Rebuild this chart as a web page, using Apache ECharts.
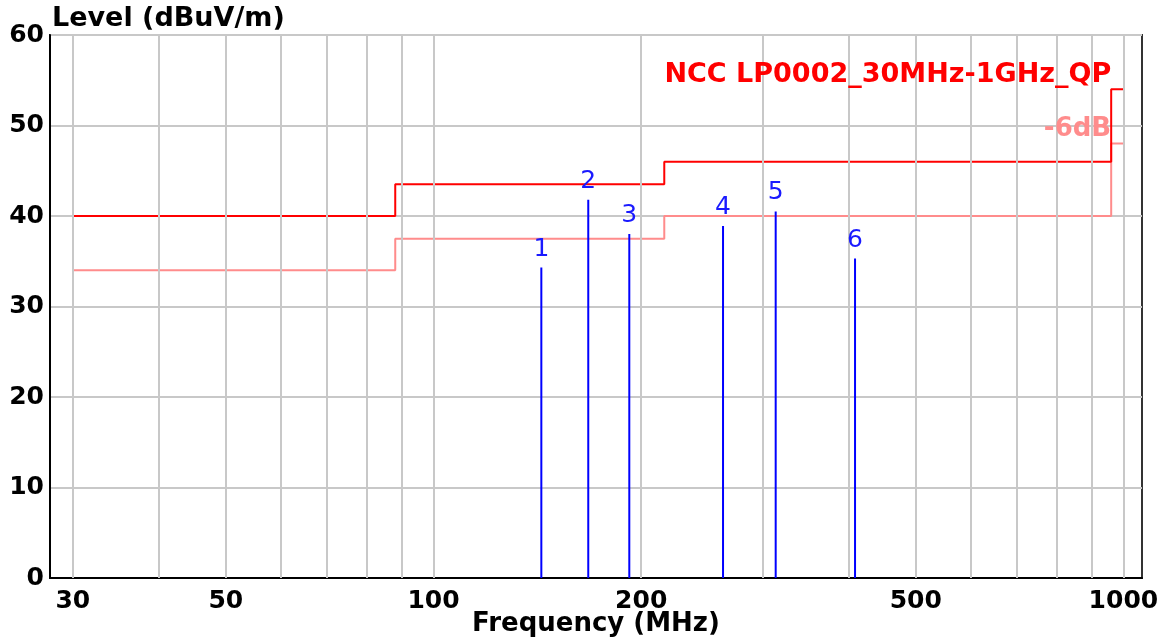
<!DOCTYPE html>
<html>
<head>
<meta charset="utf-8">
<script src="https://cdn.jsdelivr.net/npm/echarts@6/dist/echarts.min.js"></script>
<style>
html,body{margin:0;padding:0;background:#fff;}
#chart{width:1168px;height:641px;}
</style>
</head>
<body>
<div id="chart"></div>
<script>
// ---- data ----
const peakFreqMHz = [143.3, 167.6, 192.2, 262.8, 313.3, 408.3];
const peakLevelDb = [34.3, 41.8, 38.0, 38.9, 40.5, 35.3];
const peakLabels = ['1', '2', '3', '4', '5', '6'];
const limitEdgesMHz = [30, 88, 216, 960, 1000];
const qpLimitDb = [40, 43.5, 46, 54, 54];
const marginLimitDb = [34, 37.5, 40, 48, 48];
const xTickLabels = [30, 50, 100, 200, 500, 1000];
const xGridValues = [30, 40, 50, 60, 70, 80, 90, 100, 200, 300, 400, 500, 600, 700, 800, 900, 1000];
const limitName = 'NCC LP0002_30MHz-1GHz_QP';
const marginName = '-6dB';

const FONT = '"DejaVu Sans", "Liberation Sans", Arial, sans-serif';

const chart = echarts.init(document.getElementById('chart'));

const qpData = limitEdgesMHz.map((f, i) => [f, qpLimitDb[i]]);
const marginData = limitEdgesMHz.map((f, i) => [f, marginLimitDb[i]]);
const peakData = peakFreqMHz.map((f, i) => [f, peakLevelDb[i], peakLabels[i]]);
const xLabelData = xTickLabels.map(v => [v, 0]);

const option = {
  animation: false,
  backgroundColor: '#fff',
  grid: {
    left: 50, right: 26, top: 35, bottom: 63,
    outerBoundsMode: 'none',
    containLabel: false,
    show: true, borderColor: '#333', borderWidth: 2, backgroundColor: '#fff'
  },
  xAxis: {
    type: 'log',
    logBase: 10,
    min: 27.8,
    max: 1064,
    name: 'Frequency (MHz)',
    nameLocation: 'middle',
    nameGap: 46,
    nameTextStyle: { fontFamily: FONT, fontWeight: 'bold', fontSize: 26, color: '#000', verticalAlign: 'middle' },
    axisLine: { show: true, lineStyle: { color: '#000', width: 2 } },
    axisTick: { show: false },
    axisLabel: { show: false },
    splitLine: { show: false },
    minorSplitLine: { show: false }
  },
  yAxis: {
    type: 'value',
    min: 0, max: 60, interval: 10,
    name: 'Level (dBuV/m)',
    nameLocation: 'end',
    nameGap: 16,
    nameTextStyle: { fontFamily: FONT, fontWeight: 'bold', fontSize: 27, color: '#000', align: 'left', verticalAlign: 'middle', padding: [0, 0, 0, 2] },
    axisLine: { show: true, lineStyle: { color: '#000', width: 2 } },
    axisTick: { show: false },
    axisLabel: { fontFamily: FONT, fontWeight: 'bold', fontSize: 25, color: '#000', margin: 6 },
    splitLine: { show: true, lineStyle: { color: '#c8c8c8', width: 2 } }
  },
  series: [
    {
      name: 'grid',
      type: 'line',
      data: [],
      silent: true,
      z: 1,
      markLine: {
        silent: true,
        symbol: ['none', 'none'],
        label: { show: false },
        lineStyle: { color: '#c8c8c8', width: 2, type: 'solid' },
        emphasis: { disabled: true },
        animation: false,
        data: xGridValues.map(v => ({ xAxis: v }))
      }
    },
    {
      name: marginName,
      type: 'line',
      step: 'end',
      data: marginData,
      showSymbol: false,
      symbol: 'none',
      lineStyle: { color: '#ff8c8c', width: 2 },
      z: 3,
      markPoint: {
        symbol: 'circle', symbolSize: 0, silent: true,
        data: [{ coord: [960, 48] }],
        label: {
          show: true, formatter: marginName, position: [0, -14], align: 'right', verticalAlign: 'middle',
          fontFamily: FONT, fontWeight: 'bold', fontSize: 26, color: '#ff8c8c'
        }
      }
    },
    {
      name: limitName,
      type: 'line',
      step: 'end',
      data: qpData,
      showSymbol: false,
      symbol: 'none',
      lineStyle: { color: '#ff0000', width: 2 },
      z: 4,
      markPoint: {
        symbol: 'circle', symbolSize: 0, silent: true,
        data: [{ coord: [960, 54] }],
        label: {
          show: true, formatter: limitName, position: [0, -14], align: 'right', verticalAlign: 'middle',
          fontFamily: FONT, fontWeight: 'bold', fontSize: 27, color: '#ff0000'
        }
      }
    },
    {
      name: 'peaks',
      type: 'custom',
      z: 5,
      data: peakData,
      renderItem: function (params, api) {
        const top = api.coord([api.value(0), api.value(1)]);
        const base = api.coord([api.value(0), 0]);
        return {
          type: 'group',
          children: [
            { type: 'line', shape: { x1: base[0], y1: base[1], x2: top[0], y2: top[1] }, style: { stroke: '#0000ff', lineWidth: 2 } },
            { type: 'text', x: top[0], y: top[1] - 6, style: { text: peakLabels[params.dataIndex], fill: '#1a1aff', font: '25px ' + FONT, align: 'center', verticalAlign: 'bottom' } }
          ]
        };
      }
    },
    {
      name: 'xlabels',
      type: 'custom',
      z: 6,
      silent: true,
      clip: false,
      data: xLabelData,
      renderItem: function (params, api) {
        const p = api.coord([api.value(0), 0]);
        return {
          type: 'text', x: p[0], y: p[1] + 23,
          style: { text: String(xTickLabels[params.dataIndex]), fill: '#000', font: 'bold 25px ' + FONT, align: 'center', verticalAlign: 'middle' }
        };
      }
    }
  ]
};
chart.setOption(option);
</script>
</body>
</html>
